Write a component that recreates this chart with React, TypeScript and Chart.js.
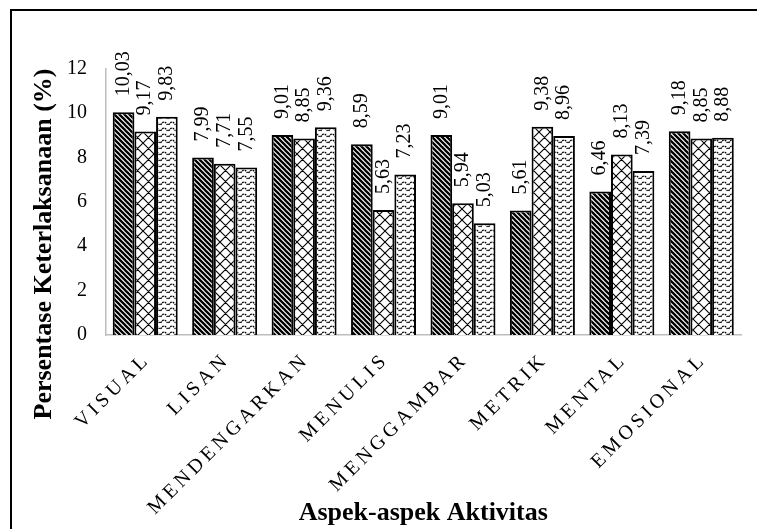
import React, { useEffect, useRef } from "react";
import { Chart, registerables } from "chart.js";

Chart.register(...registerables);

const categories = [
  "VISUAL",
  "LISAN",
  "MENDENGARKAN",
  "MENULIS",
  "MENGGAMBAR",
  "METRIK",
  "MENTAL",
  "EMOSIONAL",
];
const series1 = [10.03, 7.99, 9.01, 8.59, 9.01, 5.61, 6.46, 9.18];
const series2 = [9.17, 7.71, 8.85, 5.63, 5.94, 9.38, 8.13, 8.85];
const series3 = [9.83, 7.55, 9.36, 7.23, 5.03, 8.96, 7.39, 8.88];
const seriesNames = ["Seri 1", "Seri 2", "Seri 3"];
const yMin = 0;
const yMax = 12;
const yStep = 2;
const yTitle = "Persentase Keterlaksanaan (%)";
const xTitle = "Aspek-aspek Aktivitas";

const SERIF = '"Liberation Serif", "Times New Roman", serif';

function makePattern(kind: string): CanvasPattern | string {
  const c = document.createElement("canvas");
  let w = 8;
  let h = 8;
  if (kind === "stripes") { w = 5; h = 5; }
  if (kind === "lattice") { w = 11; h = 11; }
  if (kind === "wave") { w = 8; h = 6; }
  c.width = w;
  c.height = h;
  const g = c.getContext("2d");
  if (!g) return "#fff";
  g.fillStyle = "#fff";
  g.fillRect(0, 0, w, h);
  g.strokeStyle = "#000";
  if (kind === "stripes") {
    g.lineWidth = 2.3;
    g.beginPath();
    for (let k = -1; k <= 1; k++) {
      g.moveTo(k * w - 1, -1);
      g.lineTo(k * w + w + 1, h + 1);
    }
    g.stroke();
  } else if (kind === "lattice") {
    g.lineWidth = 1.1;
    g.beginPath();
    for (let k = -1; k <= 1; k++) {
      g.moveTo(k * w - 1, -1);
      g.lineTo(k * w + w + 1, h + 1);
      g.moveTo(k * w - 1, h + 1);
      g.lineTo(k * w + w + 1, -1);
    }
    g.stroke();
  } else {
    g.lineWidth = 1.4;
    g.setLineDash([1.8, 0.9]);
    g.beginPath();
    g.moveTo(0.5, 5);
    g.quadraticCurveTo(4, -0.8, 7.5, 5);
    g.stroke();
  }
  return g.createPattern(c, "repeat") || "#fff";
}

function fmt(v: number): string {
  return v.toFixed(2).replace(".", ",");
}

const valueLabels = {
  id: "valueLabels",
  afterDatasetsDraw(chart: any) {
    const ctx = chart.ctx;
    chart.data.datasets.forEach((ds: any, di: number) => {
      const meta = chart.getDatasetMeta(di);
      meta.data.forEach((bar: any, i: number) => {
        ctx.save();
        ctx.translate(bar.x, bar.y - 16);
        ctx.rotate(-Math.PI / 2);
        ctx.font = `20px ${SERIF}`;
        ctx.fillStyle = "#000";
        ctx.textAlign = "left";
        ctx.textBaseline = "middle";
        ctx.fillText(fmt(ds.data[i]), 0, 0);
        ctx.restore();
      });
    });
  },
};

const xLabels = {
  id: "xLabels",
  afterDraw(chart: any) {
    const ctx = chart.ctx;
    const xs = chart.scales.x;
    const spacing = 4;
    categories.forEach((lab, i) => {
      const cx = xs.getPixelForValue(i);
      ctx.save();
      ctx.font = `20px ${SERIF}`;
      (ctx as any).letterSpacing = `${spacing}px`;
      ctx.fillStyle = "#000";
      ctx.translate(cx + 3, xs.top + 28);
      ctx.rotate(-Math.PI / 4);
      ctx.textAlign = "left";
      ctx.textBaseline = "alphabetic";
      const w = ctx.measureText(lab).width;
      ctx.fillText(lab, -w + spacing, 0);
      ctx.restore();
    });
  },
};

const yTitlePlugin = {
  id: "yTitlePlugin",
  afterDraw(chart: any) {
    const ctx = chart.ctx;
    ctx.save();
    ctx.translate(44, 244);
    ctx.rotate(-Math.PI / 2);
    ctx.font = `bold 26px ${SERIF}`;
    ctx.fillStyle = "#000";
    ctx.textAlign = "center";
    ctx.textBaseline = "middle";
    ctx.fillText(yTitle, 0, 0);
    ctx.restore();
  },
};

export default function App() {
  const ref = useRef<HTMLCanvasElement | null>(null);
  useEffect(() => {
    if (!ref.current) return;
    const barOpts = { borderColor: "#000", borderWidth: 2, categoryPercentage: 0.818, barPercentage: 1 };
    const chart = new Chart(ref.current, {
      type: "bar",
      data: {
        labels: categories,
        datasets: [
          { label: seriesNames[0], data: series1, backgroundColor: makePattern("stripes") as any, ...barOpts },
          { label: seriesNames[1], data: series2, backgroundColor: makePattern("lattice") as any, ...barOpts },
          { label: seriesNames[2], data: series3, backgroundColor: makePattern("wave") as any, ...barOpts },
        ],
      },
      options: {
        animation: false,
        responsive: false,
        maintainAspectRatio: false,
        layout: { padding: { left: 0, top: 68.6, right: 16, bottom: 0 } },
        plugins: { legend: { display: false }, tooltip: { enabled: false } },
        scales: {
          x: {
            grid: { display: false, drawTicks: false },
            border: { display: true, color: "#bdbdbd", width: 1.5 },
            ticks: { display: false },
            afterFit: (s: any) => { s.height = 194; },
            title: {
              display: true,
              text: xTitle,
              color: "#000",
              font: { family: SERIF, size: 26, weight: "bold" },
              padding: { top: 0, bottom: 0 },
            },
          },
          y: {
            min: yMin,
            max: yMax,
            grid: { display: false, drawTicks: false },
            border: { display: true, color: "#bdbdbd", width: 1.5 },
            afterFit: (s: any) => { s.width = 105.5; },
            ticks: {
              stepSize: yStep,
              color: "#000",
              padding: 18.5,
              font: { family: SERIF, size: 20 },
            },
          },
        },
      },
      plugins: [valueLabels, xLabels, yTitlePlugin],
    });
    return () => chart.destroy();
  }, []);

  return (
    <div style={{ position: "fixed", left: 0, top: 0, width: 757, height: 529, overflow: "hidden", background: "#fff" }}>
      <div style={{ position: "absolute", left: 10, top: 9, width: 900, height: 700, border: "2px solid #000", boxSizing: "border-box" }} />
      <canvas ref={ref} width={757} height={529} style={{ position: "absolute", left: 0, top: 0, width: 757, height: 529 }} />
    </div>
  );
}
